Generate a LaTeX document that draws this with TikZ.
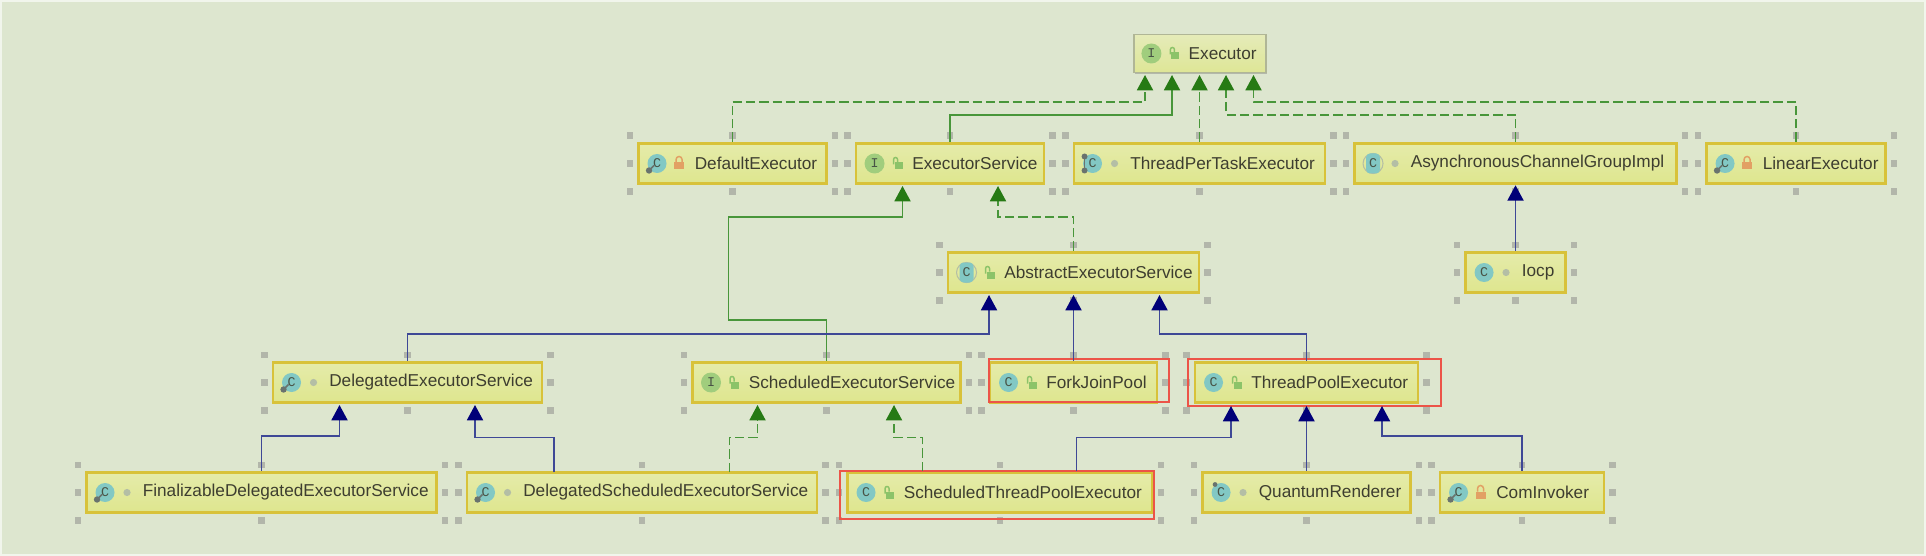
\documentclass[tikz,border=0pt]{standalone}
\usepackage{fontspec}
\setmainfont{Liberation Sans}
\newfontfamily\iconfont{Liberation Mono}
\usetikzlibrary{arrows.meta,shadows}

\definecolor{pagegreen}{RGB}{221,230,207}
\definecolor{boxtop}{RGB}{229,235,170}
\definecolor{boxbottom}{RGB}{222,230,142}
\definecolor{boxline}{RGB}{216,194,58}
\definecolor{plaintop}{RGB}{229,235,185}
\definecolor{plainbottom}{RGB}{222,230,150}
\definecolor{plainline}{RGB}{176,182,150}
\definecolor{handlegray}{RGB}{178,182,170}
\definecolor{textdark}{RGB}{62,62,48}
\definecolor{implline}{RGB}{72,150,58}
\definecolor{impltip}{RGB}{38,122,20}
\definecolor{extline}{RGB}{62,72,150}
\definecolor{exttip}{RGB}{0,0,120}
\definecolor{redmark}{RGB}{236,84,72}
\definecolor{iconteal}{RGB}{130,200,196}
\definecolor{icongreen}{RGB}{160,205,125}
\definecolor{keygray}{RGB}{105,115,110}
\definecolor{lockorange}{RGB}{226,160,100}
\definecolor{lockgreen}{RGB}{140,195,105}
\definecolor{dotgray}{RGB}{180,190,165}

\tikzset{
  boxstyle/.style={draw=boxline,top color=boxtop,bottom color=boxbottom,line width=2.2pt,inner sep=0pt,minimum height=30.5pt},
  plainstyle/.style={draw=plainline,top color=plaintop,bottom color=plainbottom,line width=0.9pt,inner sep=0pt,minimum height=29pt,
    drop shadow={shadow xshift=1pt,shadow yshift=-1pt,opacity=0.45}},
  labelstyle/.style={anchor=west,inner sep=0pt,text=textdark,font=\fontsize{12.9}{15}\selectfont},
  letterstyle/.style={inner sep=0pt,text=textdark!85!iconteal,font=\fontsize{10}{11}\selectfont\iconfont},
  markstyle/.style={draw=redmark,line width=1.5pt},
  realize/.style={draw=implline,line width=1.4pt,dashed,dash pattern=on 7pt off 3pt,
    -{Triangle[length=11.5pt,width=12pt,color=impltip]}},
  inherit/.style={draw=implline,line width=1.4pt,
    -{Triangle[length=11.5pt,width=12pt,color=impltip]}},
  extend/.style={draw=extline,line width=1.4pt,
    -{Triangle[length=11.5pt,width=12pt,color=exttip]}},
  classplain/.pic={\fill[iconteal] (0,0) circle (9.5); \node[letterstyle] (-c) at (0,0) {C};},
  classinner/.pic={\fill[iconteal] (0,0) circle (9.5); \node[letterstyle] (-c) at (0,0) {C};
    \fill[keygray] (-8,-7) circle (3.2); \draw[keygray,line width=1.2pt] (-8,-7) -- (-3,-2);},
  classboth/.pic={\fill[iconteal] (0,0) circle (9.5); \node[letterstyle] (-c) at (0,0) {C};
    \fill[keygray] (-8,-7) circle (3); \fill[keygray] (-8,7) circle (3);
    \draw[keygray,line width=1.2pt] (-8,-7) -- (-8,7);},
  classtop/.pic={\fill[iconteal] (0,0) circle (9.5); \node[letterstyle] (-c) at (0,0) {C};
    \fill[keygray] (-6,8) circle (2.4);},
  classabs/.pic={\draw[dotgray,line width=0.8pt] (0,0) circle (10); \fill[iconteal,rounded corners=3] (-7,-10) rectangle (7,10);
    \node[letterstyle] (-c) at (0,0) {C};},
  iface/.pic={\fill[icongreen] (0,0) circle (10); \node[letterstyle] (-c) at (0,0) {I};},
  visopen/.pic={\fill[lockgreen] (-2,-6) rectangle (6,1); \draw[lockgreen,line width=1.1pt] (-3,-1) -- (-3,4) arc (180:0:2) -- (1,1);},
  vislock/.pic={\fill[lockorange] (-5,-6) rectangle (5,1);
    \draw[lockorange,line width=1.1pt] (-3,1) -- (-3,4) arc (180:0:3) -- (3,1);},
  visdot/.pic={\fill[dotgray] (0,0) circle (3.6);}
}

% one selected class box with its icons, its label and its eight handles
\newcommand{\umlbox}[7]{
  \node (#1) [boxstyle,minimum width={(#4-2)*0.75pt}] at (#2,#3) {};
  \pic (#1ic) at ([xshift=20*0.75pt]#1.west) {#5};
  \pic (#1vs) at ([xshift=42*0.75pt]#1.west) {#6};
  \node (#1tx) [labelstyle] at ([xshift=57.5*0.75pt]#1.west) {#7};
  \foreach \ha/\hx/\hy in {north west/-7/-6,north/0/-6,north east/7/-6,west/-7/0,east/7/0,
    south west/-7/6,south/0/6,south east/7/6}
    \fill[handlegray] (#1.\ha) ++(\hx-3.2,\hy-3.2) rectangle ++(6.4,6.4);
}

\begin{document}
\begin{tikzpicture}[x=0.75pt,y=0.75pt,yscale=-1,xscale=1]
\useasboundingbox (0,0) rectangle (1926,556);
\fill[white!60!pagegreen] (0,0) rectangle (1926,556);
\fill[pagegreen] (2,2) rectangle (1924,554);

%Root box, the only one without handles
\node (exec) [plainstyle,minimum width={132*0.75pt}] at (1200,53.5) {};
\pic (execic) at ([xshift=18*0.75pt]exec.west) {iface};
\pic (execvs) at ([xshift=40*0.75pt]exec.west) {visopen};
\node (exectx) [labelstyle] at ([xshift=55*0.75pt]exec.west) {Executor};

%First row
\umlbox{defexec}{732.5}{163.5}{190}{classinner}{vislock}{DefaultExecutor}
\umlbox{execsvc}{950}{163.5}{190}{iface}{visopen}{ExecutorService}
\umlbox{perthread}{1199.5}{163.5}{253}{classboth}{visdot}{ThreadPerTaskExecutor}
\umlbox{asyncgrp}{1515.5}{163.5}{324}{classabs}{visdot}{AsynchronousChannelGroupImpl}
\umlbox{linexec}{1796}{163.5}{181}{classinner}{vislock}{LinearExecutor}

%Second row
\umlbox{absexec}{1073.5}{272.5}{253}{classabs}{visopen}{AbstractExecutorService}
\umlbox{iocp}{1515.5}{272.5}{102}{classplain}{visdot}{Iocp}

%Third row
\umlbox{delegsvc}{407.5}{382.5}{271}{classinner}{visdot}{DelegatedExecutorService}
\umlbox{schedsvc}{826.5}{382.5}{270}{iface}{visopen}{ScheduledExecutorService}
\umlbox{forkpool}{1073.5}{382.5}{169}{classplain}{visopen}{ForkJoinPool}
\umlbox{threadpool}{1306.5}{382.5}{225}{classplain}{visopen}{ThreadPoolExecutor}

%Fourth row
\umlbox{finaldeleg}{261.5}{492.5}{352}{classinner}{visdot}{FinalizableDelegatedExecutorService}
\umlbox{delegsched}{642}{492.5}{352}{classinner}{visdot}{DelegatedScheduledExecutorService}
\umlbox{schedpool}{1000}{492.5}{307}{classplain}{visopen}{ScheduledThreadPoolExecutor}
\umlbox{quantum}{1306.5}{492.5}{210}{classtop}{visdot}{QuantumRenderer}
\umlbox{cominv}{1522}{492.5}{166}{classinner}{vislock}{ComInvoker}

%Red marks around the pools
\draw[markstyle] (988.5,358.5) rectangle (1168.5,402);
\draw[markstyle] (1188,358.5) rectangle (1441,406);
\draw[markstyle] (840,471) rectangle (1154,519);

%Arrow ends
\coordinate (exA) at (1145,75);
\coordinate (exB) at (1172,75);
\coordinate (exC) at (1199.5,75);
\coordinate (exD) at (1226,75);
\coordinate (exE) at (1253.5,75);
\coordinate (svcA) at (902.5,186);
\coordinate (svcB) at (998,186);
\coordinate (absA) at (989,295);
\coordinate (absB) at (1073.5,295);
\coordinate (absC) at (1159.5,295);
\coordinate (dlgA) at (339.5,405);
\coordinate (dlgB) at (475,405);
\coordinate (schA) at (757.5,405);
\coordinate (schB) at (894,405);
\coordinate (thrA) at (1231,406);
\coordinate (thrB) at (1306.5,406);
\coordinate (thrC) at (1382,406);
\coordinate (dsL) at (554,472);
\coordinate (dsR) at (729.5,472);
\coordinate (spL) at (922.5,471);
\coordinate (spR) at (1076.5,471);

%Connectors
\draw[realize] (defexec.north) -- ++(0,-40) -| (exA);
\draw[inherit] (execsvc.north) -- ++(0,-27) -| (exB);
\draw[realize] (perthread.north) -- (exC);
\draw[realize] (asyncgrp.north) -- ++(0,-27) -| (exD);
\draw[realize] (linexec.north) -- ++(0,-40) -| (exE);
\draw[inherit] (schedsvc.north) -- ++(0,-41) -| ++(-98,-41) -- ++(0,-62) -| (svcA);
\draw[realize] (absexec.north) -- ++(0,-34) -| (svcB);
\draw[extend] (iocp.north) -- (asyncgrp.south);
\draw[extend] (delegsvc.north) -- ++(0,-27) -| (absA);
\draw[extend] (forkpool.north) -- (absB);
\draw[extend] (threadpool.north) -- ++(0,-27) -| (absC);
\draw[extend] (finaldeleg.north) -- ++(0,-34.5) -| (dlgA);
\draw[extend] (dsL) -- ++(0,-34.5) -| (dlgB);
\draw[realize] (dsR) -- ++(0,-34.5) -| (schA);
\draw[realize] (spL) -- ++(0,-33.5) -| (schB);
\draw[extend] (spR) -- ++(0,-33.5) -| (thrA);
\draw[extend] (quantum.north) -- (thrB);
\draw[extend] (cominv.north) -- ++(0,-34.5) -| (thrC);

\end{tikzpicture}
\end{document}
